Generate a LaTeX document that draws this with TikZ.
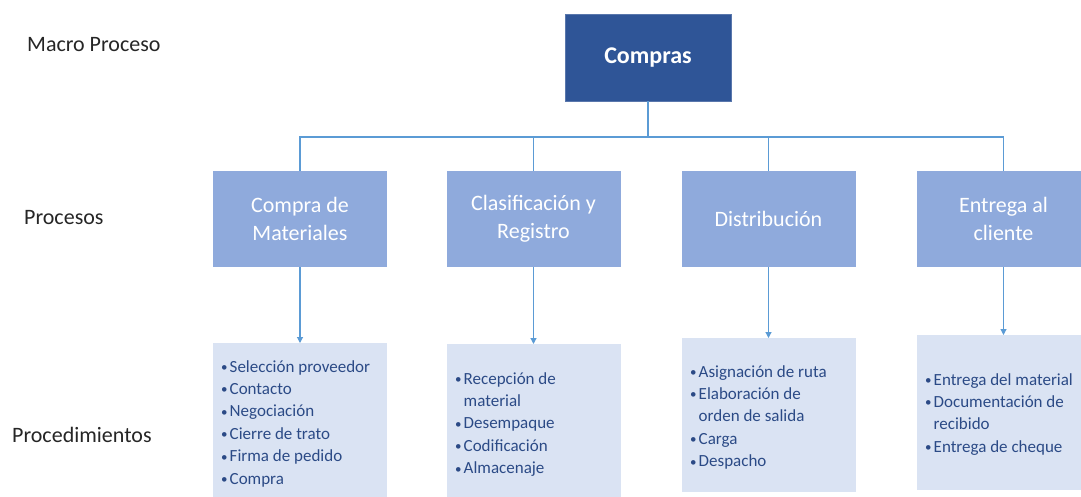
\documentclass[tikz,border=0pt]{standalone}
\usepackage{fontspec}
\setmainfont{Carlito}
\usetikzlibrary{arrows.meta,positioning}
\definecolor{dark}{HTML}{2F5597}
\definecolor{proc}{HTML}{8FAADC}
\definecolor{light}{HTML}{DAE3F3}
\definecolor{ltext}{HTML}{2B4A86}
\definecolor{conn}{HTML}{5B9BD5}
\definecolor{lab}{HTML}{262626}
\newcommand{\bul}{\makebox[8.5pt][l]{\raisebox{0.5pt}{\fontsize{13}{13}\selectfont•}}}
\newcommand{\cnt}{\hspace*{8.5pt}}
\begin{document}
\begin{tikzpicture}[x=1pt,y=-1pt,
  macro/.style={fill=dark,draw=dark!80!white,line width=0.6pt,minimum width=166pt,minimum height=87pt,text=white,font=\fontsize{24}{28}\selectfont\bfseries,inner sep=0pt},
  procbox/.style={fill=proc,minimum width=174pt,minimum height=96pt,text=white,font=\fontsize{22}{28}\selectfont,align=center,inner sep=0pt},
  leafbox/.style={fill=light,minimum width=174pt,anchor=north west,inner sep=0pt},
  leaftext/.style={anchor=north west,align=left,text=ltext,font=\fontsize{17}{22.4}\selectfont,inner sep=0pt},
  lvl/.style={anchor=west,text=lab,font=\fontsize{22}{26}\selectfont,inner sep=0pt},
  conn/.style={draw=conn,line width=1.1pt},
  arr/.style={conn,-{Triangle[width=6pt,length=6pt]}}]
\useasboundingbox (0,0) rectangle (1081,496);
\fill[white] (0,0) rectangle (1081,496);

\node[lvl] (l1) at (27,45) {Macro Proceso};
\node[lvl] (l2) at (24,218) {Procesos};
\node[lvl] (l3) at (12,435) {Procedimientos};

\node[macro] (c) at (648,57.5) {Compras};

\node[procbox] (p1) at (300,219) {Compra de\\Materiales};
\node[procbox] (p2) at (533.5,219) {Clasificación y\\Registro};
\node[procbox] (p3) at (768.5,219) {Distribución};
\node[procbox] (p4) at (1003.5,219) {Entrega al\\cliente};

\node[leafbox,minimum height=160pt] (b1) at (213,343) {};
\node[leafbox,minimum height=160pt] (b2) at (447,344) {};
\node[leafbox,minimum height=154pt] (b3) at (682,338) {};
\node[leafbox,minimum height=155pt] (b4) at (917,335) {};

\node[leaftext] (t1) at (221,360) {\bul Selección proveedor\\\bul Contacto\\\bul Negociación\\\bul Cierre de trato\\\bul Firma de pedido\\\bul Compra};
\node[leaftext] (t2) at (455,372) {\bul Recepción de\\\cnt material\\\bul Desempaque\\\bul Codificación\\\bul Almacenaje};
\node[leaftext] (t3) at (690,365) {\bul Asignación de ruta\\\bul Elaboración de\\\cnt orden de salida\\\bul Carga\\\bul Despacho};
\node[leaftext] (t4) at (925,373) {\bul Entrega del material\\\bul Documentación de\\\cnt recibido\\\bul Entrega de cheque};

\coordinate (bus) at (648,137);
\draw[conn] (c.south) -- (bus);
\draw[conn] (p1.north) |- (bus) -| (p4.north);
\draw[conn] (p2.north) -- (p2.north|-bus);
\draw[conn] (p3.north) -- (p3.north|-bus);

\draw[arr] (p1.south) -- (p1.south|-b1.north);
\draw[arr] (p2.south) -- (p2.south|-b2.north);
\draw[arr] (p3.south) -- (p3.south|-b3.north);
\draw[arr] (p4.south) -- (p4.south|-b4.north);
\end{tikzpicture}
\end{document}
